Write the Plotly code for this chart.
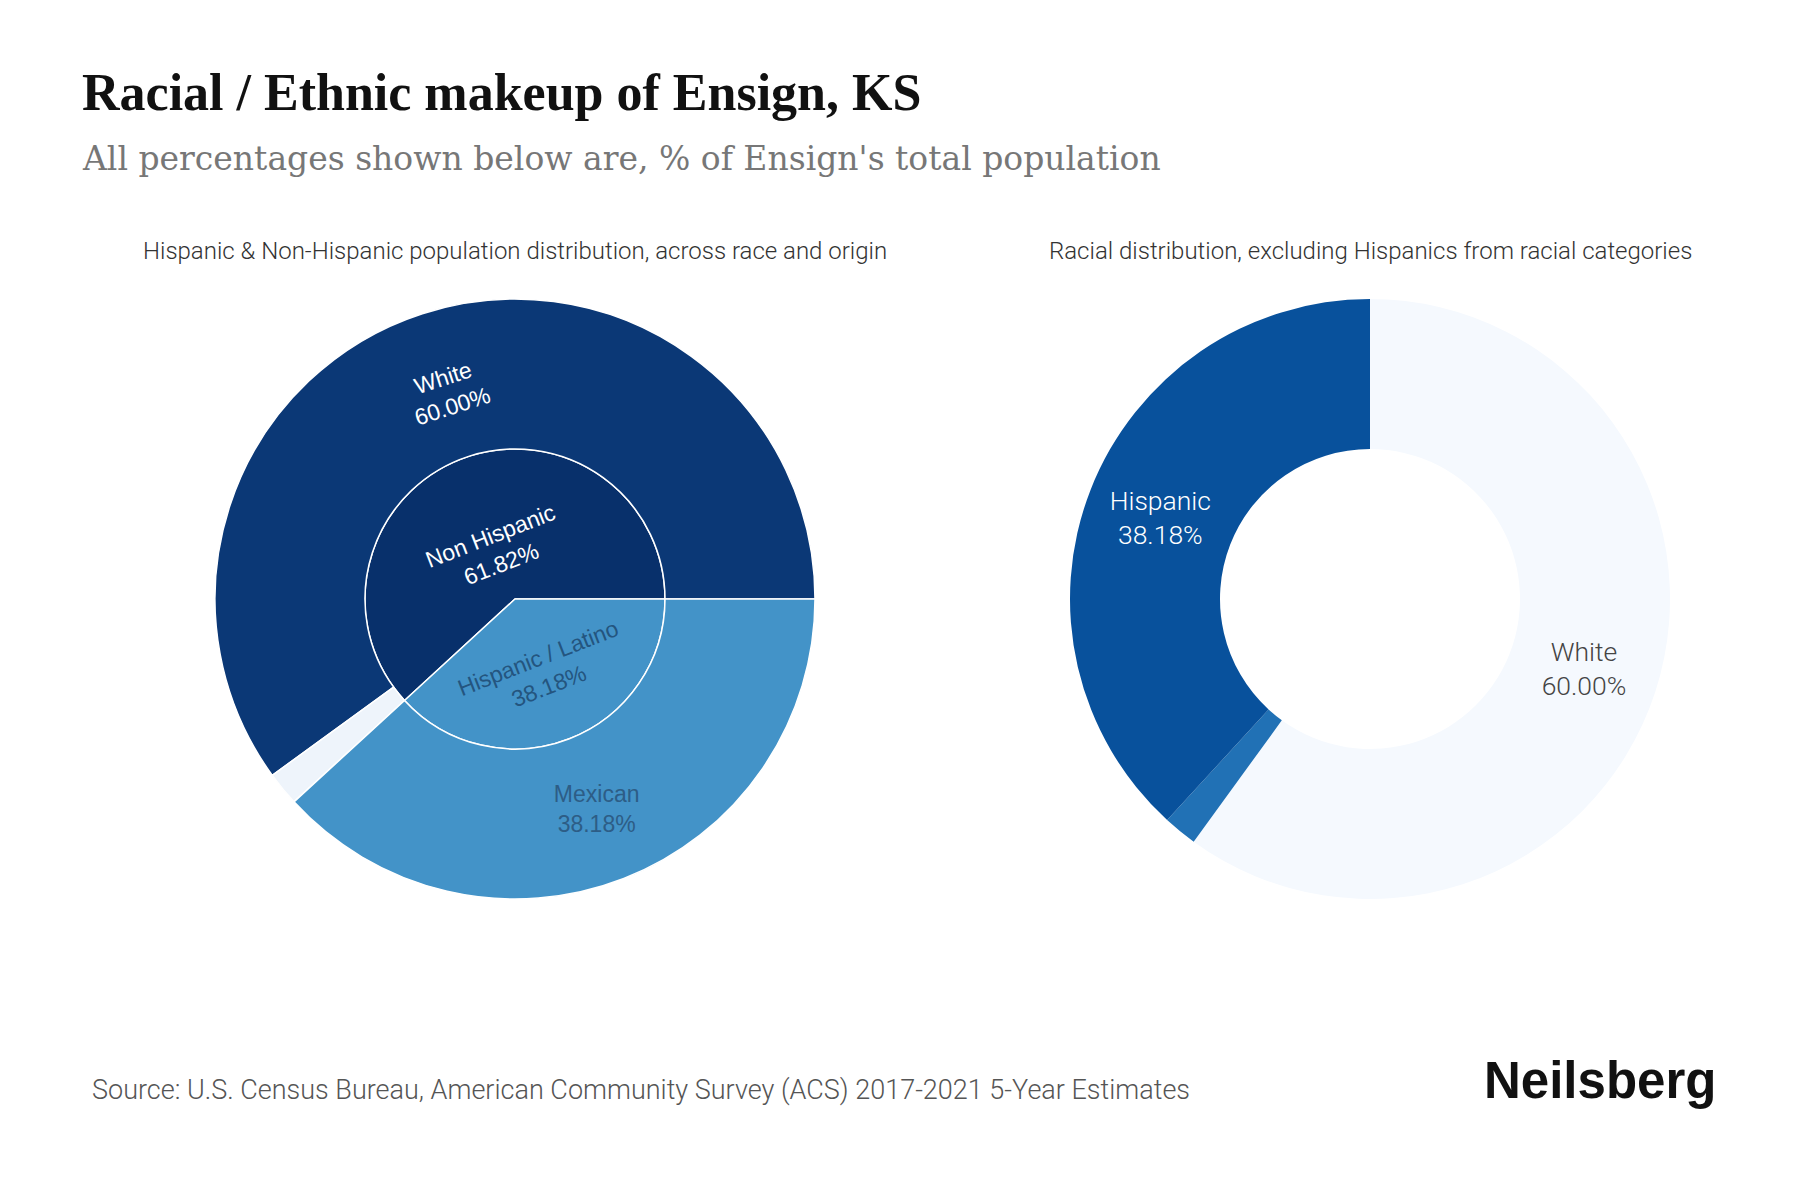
import plotly.graph_objects as go

# ---- data ----
sb_ids = ["Non Hispanic", "Hispanic / Latino", "NH-White", "NH-Other", "H-Mexican"]
sb_labels = ["Non Hispanic", "Hispanic / Latino", "White", "Other", "Mexican"]
sb_parents = ["", "", "Non Hispanic", "Non Hispanic", "Hispanic / Latino"]
sb_values = [61.82, 38.18, 60.00, 1.82, 38.18]

pie_labels = ["White", "Other", "Hispanic"]
pie_values = [60.00, 1.82, 38.18]

title = "Racial / Ethnic makeup of Ensign, KS"
subtitle = "All percentages shown below are, % of Ensign's total population"
left_title = "Hispanic & Non-Hispanic population distribution, across race and origin"
right_title = "Racial distribution, excluding Hispanics from racial categories"
source = "Source: U.S. Census Bureau, American Community Survey (ACS) 2017-2021 5-Year Estimates"

# ---- styles ----
sb_colors = ["#08306b", "#4393c8", "#0b3876", "#eef4fb", "#4393c8"]
sb_textcolors = ["#ffffff", "#24557f", "#ffffff", "#444444", "#2d5d86"]
sb_texts = ["%{label}<br>%{value:.2f}%", "%{label}<br>%{value:.2f}%",
            "%{label}<br>%{value:.2f}%", "", "%{label}<br>%{value:.2f}%"]
pie_colors = ["#f5f9fe", "#2171b5", "#08519c"]
pie_textcolors = ["#444444", "#ffffff", "#ffffff"]
pie_texts = ["%{label}<br>%{value:.2f}%", "", "%{label}<br>%{value:.2f}%"]

W, H = 1800, 1200
OFF = 8  # page body offset


def px(x):
    return (x - OFF) / W


def py(y):
    return 1 - (y - OFF) / H


fig = go.Figure()

fig.add_trace(go.Sunburst(
    ids=sb_ids, labels=sb_labels, parents=sb_parents, values=sb_values,
    branchvalues="total",
    marker=dict(colors=sb_colors, line=dict(color="#ffffff", width=1.5)),
    leaf=dict(opacity=1),
    texttemplate=sb_texts,
    insidetextorientation="auto",
    insidetextfont=dict(family="Liberation Sans, Arial", size=23, color=sb_textcolors),
    hoverinfo="skip",
    sort=False,
    domain=dict(x=[px(515 - 300), px(515 + 300)], y=[py(899), py(299)]),
))

fig.add_trace(go.Pie(
    labels=pie_labels, values=pie_values, hole=0.5,
    sort=False, direction="clockwise", rotation=0,
    marker=dict(colors=pie_colors, line=dict(width=0)),
    texttemplate=pie_texts, textposition="inside",
    insidetextorientation="horizontal",
    textfont=dict(family="Roboto", size=26.5, color=pie_textcolors, weight=300),
    showlegend=False, hoverinfo="skip",
    domain=dict(x=[px(1370 - 300), px(1370 + 300)], y=[py(899), py(299)]),
))

ann = []
ann.append(dict(text="<b>" + title + "</b>", x=px(80), y=py(92), xref="paper", yref="paper",
                xanchor="left", yanchor="middle", showarrow=False,
                font=dict(family="Liberation Serif, serif", size=52, color="#111111")))
ann.append(dict(text=subtitle, x=px(80), y=py(158), xref="paper", yref="paper",
                xanchor="left", yanchor="middle", showarrow=False,
                font=dict(family="DejaVu Serif, serif", size=33, color="#777777")))
ann.append(dict(text=left_title, x=px(515), y=py(251), xref="paper", yref="paper",
                xanchor="center", yanchor="middle", showarrow=False,
                font=dict(family="Roboto", size=24, color="#333333", weight=300)))
ann.append(dict(text=right_title, x=px(1370), y=py(251), xref="paper", yref="paper",
                xanchor="center", yanchor="middle", showarrow=False,
                font=dict(family="Roboto", size=24, color="#333333", weight=300)))
ann.append(dict(text=source, x=px(90), y=py(1090), xref="paper", yref="paper",
                xanchor="left", yanchor="middle", showarrow=False,
                font=dict(family="Roboto", size=27, color="#555555", weight=300)))
ann.append(dict(text="<b>Neilsberg</b>", x=px(1718), y=py(1080), xref="paper", yref="paper",
                xanchor="right", yanchor="middle", showarrow=False,
                font=dict(family="Liberation Sans, Arial", size=51, color="#111111")))

fig.update_layout(
    width=W, height=H,
    margin=dict(l=0, r=0, t=0, b=0),
    paper_bgcolor="#ffffff", plot_bgcolor="#ffffff",
    annotations=ann,
    showlegend=False,
)

fig.write_html("out.html")
